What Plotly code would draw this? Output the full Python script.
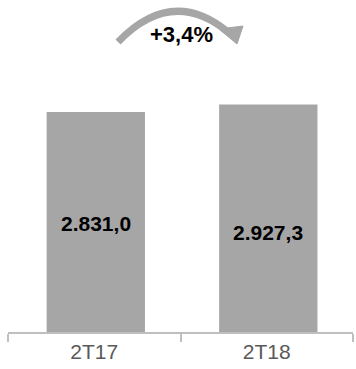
import plotly.graph_objects as go

categories = ["2T17", "2T18"]
values = [2831.0, 2927.3]
value_labels = ["2.831,0", "2.927,3"]
growth_label = "+3,4%"
label_yshift = [-1, -14]

W, H = 356, 369
ML, MR, MT, MB = 8, 3, 0, 37
PW, PH = W - ML - MR, H - MT - MB

def px(x, y):
    return (x - ML) / PW, (H - MB - y) / PH

fig = go.Figure()
fig.add_trace(go.Bar(
    x=categories, y=values,
    width=0.57, offset=-0.276,
    marker=dict(color="#a6a6a6", line=dict(width=0)),
    hoverinfo="skip",
))
for cat, v, lab, ys in zip(categories, values, value_labels, label_yshift):
    fig.add_annotation(x=cat, y=v / 2, xref="x", yref="y", text=lab, showarrow=False,
                       xshift=1.5, yshift=ys, xanchor="center", yanchor="middle",
                       font=dict(family="Liberation Sans, Arial", size=21, color="black", weight="bold"))

# curved arrow
x0, y0 = px(118, 42)
cx, cy = px(172, -14)
x1, y1 = px(228, 32)
fig.add_shape(type="path", xref="paper", yref="paper",
              path=f"M {x0} {y0} Q {cx} {cy} {x1} {y1}",
              line=dict(color="#a6a6a6", width=7))
a = px(219, 29); b = px(243, 26); c = px(237, 44)
fig.add_shape(type="path", xref="paper", yref="paper",
              path=f"M {a[0]} {a[1]} L {b[0]} {b[1]} L {c[0]} {c[1]} Z",
              fillcolor="#a6a6a6", line=dict(color="#a6a6a6", width=1))
tx, ty = px(181, 34)
fig.add_annotation(x=tx, y=ty, xref="paper", yref="paper", text=growth_label,
                   showarrow=False, xanchor="center", yanchor="middle",
                   font=dict(family="Liberation Sans, Arial", size=22, color="black", weight="bold"))

fig.update_layout(
    width=W, height=H,
    margin=dict(l=ML, r=MR, t=MT, b=MB),
    paper_bgcolor="white", plot_bgcolor="white",
    showlegend=False,
    xaxis=dict(showline=True, linecolor="#bfbfbf", linewidth=2,
               ticks="outside", tickson="boundaries", ticklen=8, tickcolor="#bfbfbf", tickwidth=2,
               tickfont=dict(family="Liberation Sans, Arial", size=21, color="#595959"),
               showgrid=False, zeroline=False),
    yaxis=dict(visible=False, range=[0, 2831.0 * PH / 220], showgrid=False, zeroline=False),
)
fig.write_html("out.html", config={"displayModeBar": False},
               post_script="document.body.style.margin='0';")
